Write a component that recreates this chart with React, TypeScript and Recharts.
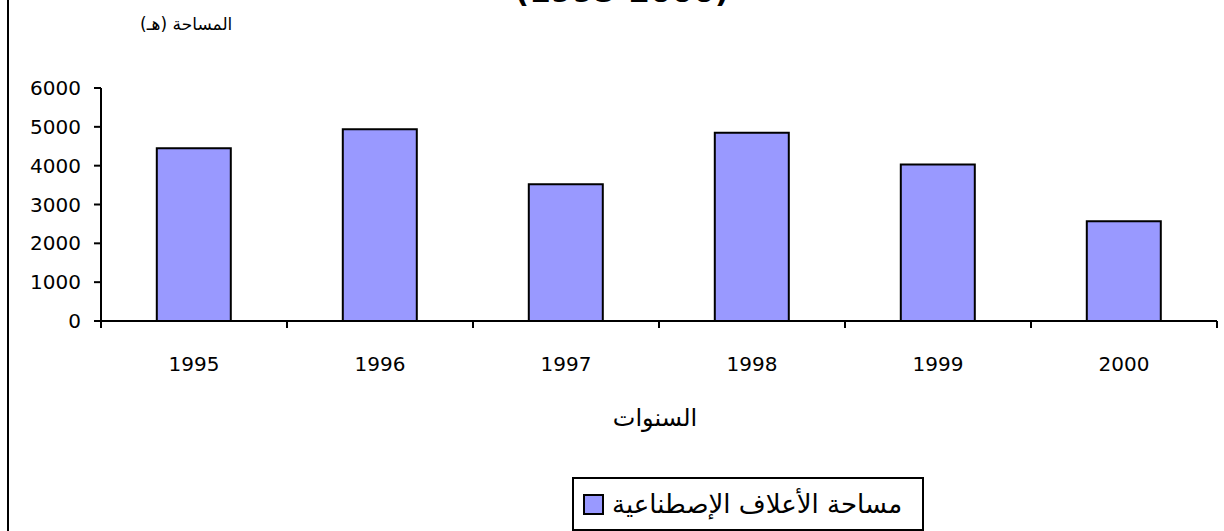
import { BarChart, Bar, XAxis, YAxis, Legend } from "recharts";

// values
const years = ["1995", "1996", "1997", "1998", "1999", "2000"];
const area = [4450, 4940, 3520, 4850, 4030, 2570];
const yTicks = [0, 1000, 2000, 3000, 4000, 5000, 6000];

const seriesName = "مساحة الأعلاف الإصطناعية";
const chartTitle = "(1995-2000)";
const yTitle = "المساحة (هـ)";
const xTitle = "السنوات";

const data = years.map((year, i) => ({ year, area: area[i] }));

const BAR_FILL = "#9999FF";
const NUM_FONT = "'DejaVu Sans', Verdana, sans-serif";
const AR_FONT = "'DejaVu Sans', 'Times New Roman', serif";

// year labels sit in the middle of each category, tick marks on the boundaries
function YearTick(props: any) {
  const { x, y, payload, index, width, visibleTicksCount } = props;
  const count = visibleTicksCount || years.length;
  const half = (width ? width / count : 186) / 2;
  return (
    <g>
      <line x1={x - half} y1={y} x2={x - half} y2={y + 7} stroke="#000" strokeWidth={2} />
      {index === count - 1 && (
        <line x1={x + half} y1={y} x2={x + half} y2={y + 7} stroke="#000" strokeWidth={2} />
      )}
      <text x={x} y={y + 50} textAnchor="middle" fontSize={20} fontFamily={NUM_FONT} fill="#000">
        {payload.value}
      </text>
    </g>
  );
}

function LegendBox() {
  return (
    <div
      style={{
        boxSizing: "border-box",
        width: 352,
        height: 54,
        border: "2px solid #000",
        background: "#fff",
        display: "flex",
        alignItems: "center",
        paddingLeft: 9,
        gap: 8,
      }}
    >
      <span
        style={{
          display: "inline-block",
          width: 17,
          height: 17,
          background: BAR_FILL,
          border: "2px solid #000",
          flexShrink: 0,
        }}
      />
      <span style={{ fontFamily: AR_FONT, fontSize: 26, color: "#000", direction: "rtl", whiteSpace: "nowrap" }}>
        {seriesName}
      </span>
    </div>
  );
}

export default function App() {
  return (
    <div style={{ position: "absolute", left: 0, top: 0, width: 1224, height: 531, overflow: "hidden", background: "#fff" }}>
      {/* left edge of the chart frame */}
      <div style={{ position: "absolute", left: 7, top: 0, width: 2, height: 531, background: "#000" }} />

      <div
        style={{
          position: "absolute",
          left: 622,
          top: -24,
          transform: "translateX(-50%)",
          fontFamily: NUM_FONT,
          fontWeight: "bold",
          fontSize: 31,
          lineHeight: "31px",
          whiteSpace: "nowrap",
          color: "#000",
        }}
      >
        {chartTitle}
      </div>

      <div
        style={{
          position: "absolute",
          left: 140,
          top: 12,
          fontFamily: AR_FONT,
          fontSize: 17,
          lineHeight: "24px",
          direction: "rtl",
          whiteSpace: "nowrap",
          color: "#000",
        }}
      >
        {yTitle}
      </div>

      <div
        style={{
          position: "absolute",
          left: 655,
          top: 402,
          transform: "translateX(-50%)",
          fontFamily: AR_FONT,
          fontSize: 24,
          lineHeight: "32px",
          direction: "rtl",
          whiteSpace: "nowrap",
          color: "#000",
        }}
      >
        {xTitle}
      </div>

      <div style={{ position: "absolute", left: 0, top: 0 }}>
        <BarChart
          width={1224}
          height={531}
          data={data}
          margin={{ top: 88, right: 7, left: 0, bottom: 150 }}
          barCategoryGap="30%"
        >
          <XAxis
            dataKey="year"
            height={60}
            tickSize={0}
            tickMargin={0}
            tickLine={false}
            axisLine={{ stroke: "#000", strokeWidth: 2 }}
            tick={<YearTick />}
            interval={0}
          />
          <YAxis
            width={101}
            domain={[0, 6000]}
            ticks={yTicks}
            interval={0}
            tickSize={7}
            tickMargin={13}
            axisLine={{ stroke: "#000", strokeWidth: 2 }}
            tickLine={{ stroke: "#000", strokeWidth: 2 }}
            tick={{ fontSize: 20, fontFamily: NUM_FONT, fill: "#000" }}
          />
          <Legend
            layout="horizontal"
            verticalAlign="middle"
            align="center"
            content={() => <LegendBox />}
            wrapperStyle={{ left: 572, top: 477, width: 352, height: 54 }}
          />
          <Bar
            dataKey="area"
            name={seriesName}
            fill={BAR_FILL}
            stroke="#000"
            strokeWidth={2}
            isAnimationActive={false}
          />
        </BarChart>
      </div>
    </div>
  );
}
